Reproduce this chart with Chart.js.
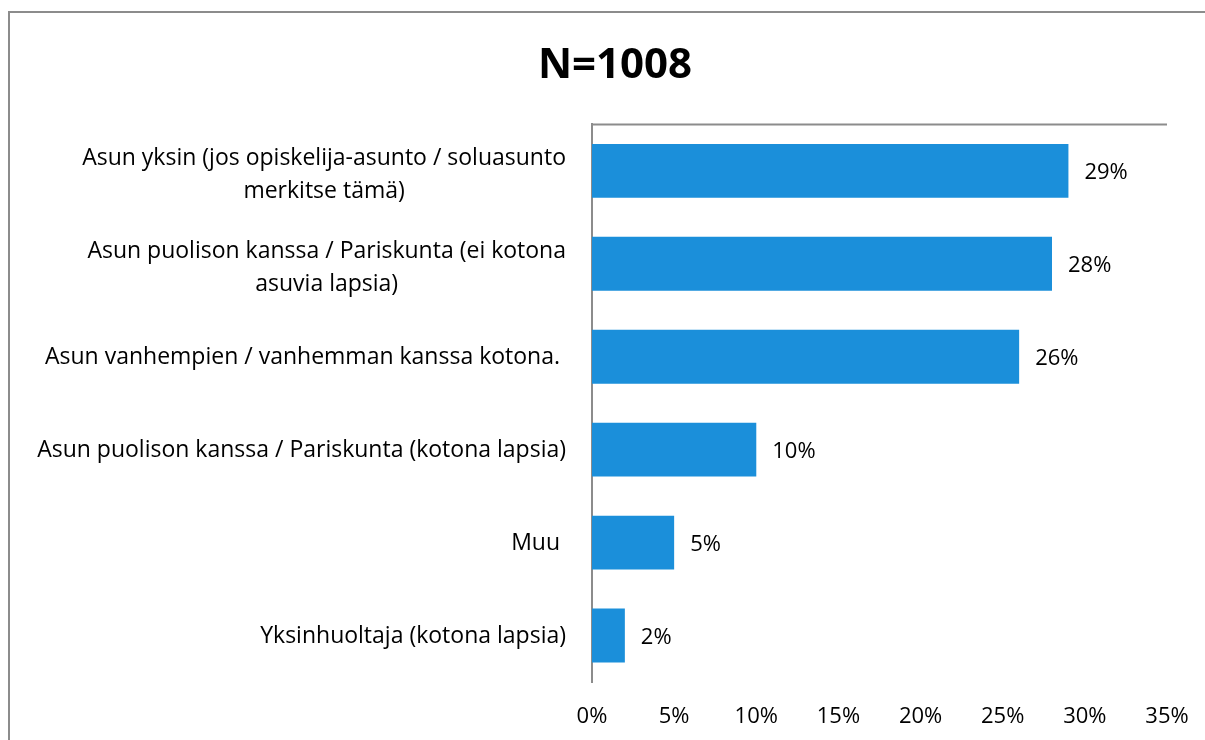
<!DOCTYPE html>
<html>
<head>
<meta charset="utf-8">
<script src="https://cdn.jsdelivr.net/npm/chart.js@4"></script>
<style>
  html, body { margin: 0; padding: 0; background: #fff; overflow: hidden; }
  #frame {
    position: absolute; left: 8px; top: 11px;
    width: 1400px; height: 900px;
    border: 2px solid #8c8c8c;
  }
  #wrap { position: absolute; left: 0; top: 0; width: 1230px; height: 740px; }
</style>
</head>
<body>
<div id="frame"></div>
<div id="wrap"><canvas id="chart"></canvas></div>
<script>
var categories = [
    ['Asun yksin (jos opiskelija-asunto / soluasunto', 'merkitse tämä)'],
    ['Asun puolison kanssa / Pariskunta (ei kotona', 'asuvia lapsia)'],
    ['Asun vanhempien / vanhemman kanssa kotona. '],
    ['Asun puolison kanssa / Pariskunta (kotona lapsia)'],
    ['Muu '],
    ['Yksinhuoltaja (kotona lapsia)']
];
var shares = [29, 28, 26, 10, 5, 2];
var xTicks = [0, 5, 10, 15, 20, 25, 30, 35];

var fontFamily = '"Open Sans", "Noto Sans", sans-serif';
var textcolor = '#000000';
var linecolor = '#8c8c8c';
var barcolor = 'rgb(27, 143, 218)';

// Draws the category labels: each block right-aligned, lines centred within it.
const categoryLabels = {
    id: 'categoryLabels',
    afterDraw(chart) {
        var ctx = chart.ctx;
        var yScale = chart.scales.y;
        var right = chart.chartArea.left - 26;
        ctx.save();
        ctx.font = '23px ' + fontFamily;
        ctx.fillStyle = textcolor;
        ctx.textAlign = 'center';
        ctx.textBaseline = 'middle';
        categories.forEach(function (lines, i) {
            var w = Math.max.apply(null, lines.map(function (l) { return ctx.measureText(l).width; }));
            var cx = right - w / 2;
            var cy = yScale.getPixelForValue(i);
            var lh = 33;
            var y0 = cy - (lines.length - 1) * lh / 2 + (lines.length > 1 ? 4 : 1);
            lines.forEach(function (l, j) {
                ctx.fillText(l, cx, y0 + j * lh);
            });
        });
        ctx.restore();
    }
};

// Value labels at the end of each bar, plus the axis line along the top.
const valueLabels = {
    id: 'valueLabels',
    afterDatasetsDraw(chart) {
        var ctx = chart.ctx;
        var meta = chart.getDatasetMeta(0);
        ctx.save();
        ctx.font = '22px ' + fontFamily;
        ctx.fillStyle = textcolor;
        ctx.textAlign = 'left';
        ctx.textBaseline = 'middle';
        meta.data.forEach(function (bar, i) {
            ctx.fillText(shares[i] + '%', bar.x + 16, bar.y + 2);
        });
        var a = chart.chartArea;
        ctx.strokeStyle = linecolor;
        ctx.lineWidth = 2;
        ctx.beginPath();
        ctx.moveTo(a.left - 1, a.top);
        ctx.lineTo(a.right, a.top);
        ctx.stroke();
        ctx.restore();
    }
};

const config = {
    type: 'bar',
    data: {
        labels: categories,
        datasets: [{
            label: 'Osuus',
            data: shares,
            backgroundColor: barcolor,
            borderWidth: 0,
            categoryPercentage: 1.0,
            barPercentage: 0.58
        }]
    },
    options: {
        indexAxis: 'y',
        responsive: true,
        maintainAspectRatio: false,
        animation: false,
        layout: {
            padding: { left: 63, right: 63, top: 0, bottom: 0 }
        },
        plugins: {
            legend: { display: false },
            tooltip: { enabled: false },
            title: {
                display: true,
                text: 'N=1008',
                color: textcolor,
                font: { family: fontFamily, size: 42, weight: 'bold' },
                padding: { top: 41, bottom: 33 }
            }
        },
        scales: {
            x: {
                min: 0,
                max: 35,
                afterBuildTicks: function (scale) {
                    scale.ticks = xTicks.map(function (v) { return { value: v }; });
                },
                afterFit: function (scale) {
                    scale.height = 58;
                    scale.paddingRight = 0;
                },
                ticks: {
                    color: textcolor,
                    padding: 22,
                    font: { family: fontFamily, size: 22 },
                    maxRotation: 0,
                    callback: function (v) { return v + '%'; }
                },
                grid: { display: false, drawTicks: false },
                border: { display: false }
            },
            y: {
                afterFit: function (scale) { scale.width = 592 - 63; },
                ticks: { display: false },
                grid: { display: false, drawTicks: false },
                border: { display: true, color: linecolor, width: 2 }
            }
        }
    },
    plugins: [categoryLabels, valueLabels]
};

new Chart(document.getElementById('chart'), config);
</script>
</body>
</html>
